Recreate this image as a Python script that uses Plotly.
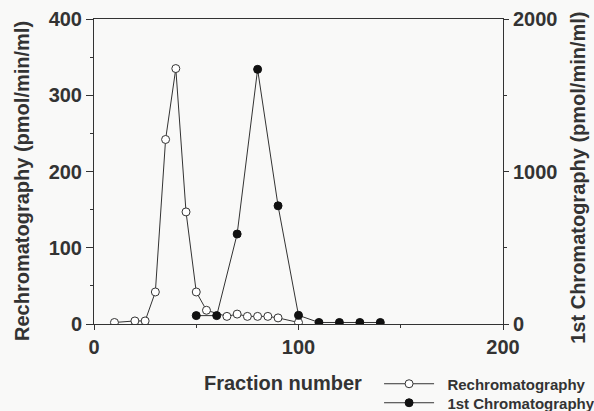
import plotly.graph_objects as go

# Rechromatography (left axis, pmol/min/ml)
re_fraction = [10, 20, 25, 30, 35, 40, 45, 50, 55, 65, 70, 75, 80, 85, 90, 100]
re_activity = [2, 4, 4, 42, 242, 335, 147, 42, 18, 10, 13, 10, 10, 10, 8, 2]

# 1st Chromatography (right axis, pmol/min/ml)
first_fraction = [50, 60, 70, 80, 90, 100, 110, 120, 130, 140]
first_activity = [55, 55, 590, 1670, 775, 57, 10, 10, 10, 10]

x_ticks = [0, 100, 200]
y_left_ticks = [0, 100, 200, 300, 400]
y_right_ticks = [0, 1000, 2000]

x_title = "Fraction number"
y_left_title = "Rechromatography (pmol/min/ml)"
y_right_title = "1st Chromatography (pmol/min/ml)"

INK = "#333333"
FONT = "Liberation Sans, Arial, sans-serif"
PAD = "\u00a0\u00a0"

fig = go.Figure()
fig.add_trace(go.Scatter(
    x=re_fraction, y=re_activity, name=PAD + "Rechromatography",
    mode="lines+markers", legend="legend",
    line=dict(color=INK, width=1),
    marker=dict(symbol="circle", size=8, color="white", line=dict(color=INK, width=1)),
))
fig.add_trace(go.Scatter(
    x=first_fraction, y=first_activity, name=PAD + "1st Chromatography",
    mode="lines+markers", yaxis="y2", legend="legend2",
    line=dict(color=INK, width=1),
    marker=dict(symbol="circle", size=8, color="#111111", line=dict(color="#111111", width=1)),
))

tickfont = dict(family=FONT, size=20, color=INK, weight="bold")
titlefont = dict(family=FONT, size=20, color=INK, weight="bold")
legfont = dict(family=FONT, size=15, color=INK, weight="bold")

fig.update_layout(
    width=594, height=411,
    margin=dict(l=94, r=91, t=19, b=87, autoexpand=False),
    paper_bgcolor="#f9f9f8", plot_bgcolor="#f9f9f8",
    showlegend=True,
    legend=dict(
        x=0.697, xanchor="left", y=-0.1426, yanchor="top",
        bgcolor="rgba(0,0,0,0)", font=legfont, itemwidth=50,
    ),
    legend2=dict(
        x=0.697, xanchor="left", y=-0.2049, yanchor="top",
        bgcolor="rgba(0,0,0,0)", font=legfont, itemwidth=50,
    ),
    xaxis=dict(
        range=[0, 200], tickvals=x_ticks, ticktext=[str(v) for v in x_ticks],
        showgrid=False, zeroline=False, showline=True, linecolor=INK, linewidth=1,
        mirror=True, ticks="outside", ticklen=5, tickcolor=INK, tickwidth=1,
        minor=dict(dtick=50, ticks="outside", ticklen=3, tickcolor=INK, showgrid=False),
        tickfont=tickfont,
    ),
    yaxis=dict(
        range=[0, 400], tickvals=y_left_ticks, ticktext=[str(v) for v in y_left_ticks],
        showgrid=False, zeroline=False, showline=True, linecolor=INK, linewidth=1,
        ticks="outside", ticklen=7, tickcolor=INK, tickwidth=1,
        minor=dict(dtick=50, ticks="outside", ticklen=3, tickcolor=INK, showgrid=False),
        tickfont=tickfont,
    ),
    yaxis2=dict(
        range=[0, 2000], tickvals=y_right_ticks, ticktext=[str(v) for v in y_right_ticks],
        overlaying="y", side="right", anchor="x",
        showgrid=False, zeroline=False, showline=True, linecolor=INK, linewidth=1,
        ticks="outside", ticklen=5, tickcolor=INK, tickwidth=1,
        minor=dict(dtick=500, ticks="outside", ticklen=3, tickcolor=INK, showgrid=False),
        tickfont=tickfont,
    ),
    annotations=[
        dict(text=x_title, xref="paper", yref="paper", x=0.462, y=-0.193,
             xanchor="center", yanchor="middle", showarrow=False, font=titlefont),
        dict(text=y_left_title, xref="paper", yref="paper", x=-0.176, y=0.469,
             xanchor="center", yanchor="middle", textangle=-90, showarrow=False, font=titlefont),
        dict(text=y_right_title, xref="paper", yref="paper", x=1.183, y=0.479,
             xanchor="center", yanchor="middle", textangle=-90, showarrow=False, font=titlefont),
    ],
)

fig.write_html("out.html")
